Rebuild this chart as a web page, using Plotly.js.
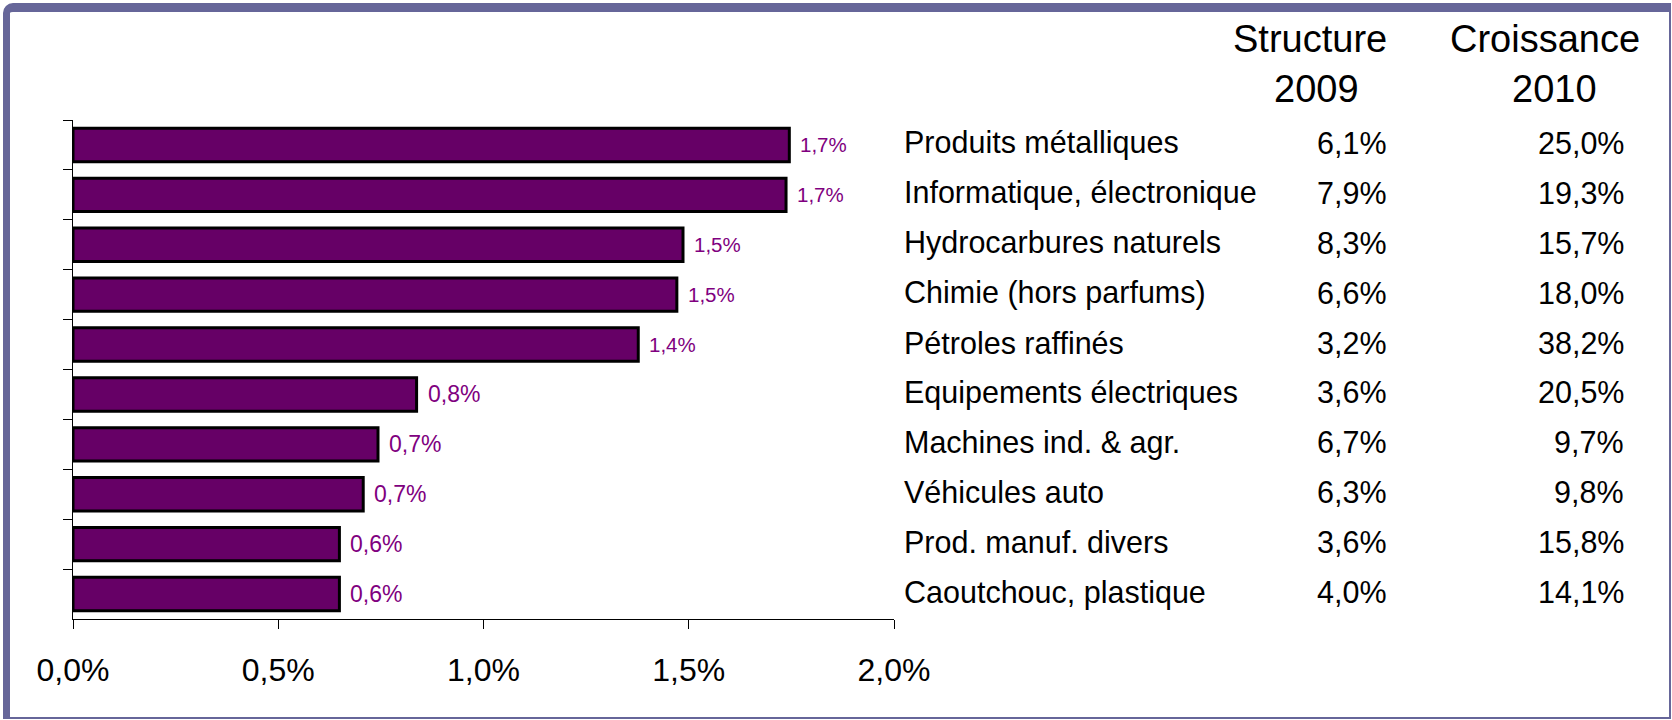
<!DOCTYPE html>
<html>
<head>
<meta charset="utf-8">
<script src="https://cdn.plot.ly/plotly-3.0.1.min.js"></script>
<style>
  html, body { margin: 0; padding: 0; background: #ffffff; }
  #chart { position: absolute; left: 0; top: 0; width: 1672px; height: 720px; }
  #frame {
    position: absolute; left: 3px; top: 3px; width: 1668px; height: 716px;
    box-sizing: border-box; border-style: solid; border-color: #666699;
    border-width: 9px 2px 2px 7px; border-top-left-radius: 10px;
    pointer-events: none;
  }
</style>
</head>
<body>
<div id="chart"></div>
<div id="frame"></div>
<script>
// ---- Data ----
const categories = [
  "Produits métalliques",
  "Informatique, électronique",
  "Hydrocarbures naturels",
  "Chimie (hors parfums)",
  "Pétroles raffinés",
  "Equipements électriques",
  "Machines ind. & agr.",
  "Véhicules auto",
  "Prod. manuf. divers",
  "Caoutchouc, plastique"
];
// contribution (in %), bar lengths
const contribution = [1.745, 1.737, 1.486, 1.471, 1.377, 0.837, 0.743, 0.707, 0.649, 0.649];
// table columns (in %)
const structure2009 = [6.1, 7.9, 8.3, 6.6, 3.2, 3.6, 6.7, 6.3, 3.6, 4.0];
const croissance2010 = [25.0, 19.3, 15.7, 18.0, 38.2, 20.5, 9.7, 9.8, 15.8, 14.1];
const xTicks = [0, 0.5, 1.0, 1.5, 2.0];
const headerStructure = ["Structure", "2009"];
const headerCroissance = ["Croissance", "2010"];

// ---- Helpers ----
const fmt = v => v.toFixed(1).replace('.', ',') + '%';

const FONT = '"Liberation Sans", Arial, sans-serif';
const LABEL_COLOR = '#800080';

const trace = {
  type: 'bar',
  orientation: 'h',
  x: contribution,
  y: categories,
  marker: { color: '#660066', line: { color: '#000000', width: 3 } },
  hoverinfo: 'none'
};

const annotations = [];
// bar value labels
contribution.forEach((v, i) => {
  annotations.push({
    x: v, y: categories[i], xref: 'x', yref: 'y',
    text: fmt(v), showarrow: false,
    xanchor: 'left', yanchor: 'middle', xshift: 11,
    borderpad: 0, borderwidth: 0,
    font: { family: FONT, size: i < 5 ? 20.5 : 23, color: LABEL_COLOR }
  });
});
// table rows
categories.forEach((c, i) => {
  annotations.push({
    x: 1.0122, y: c, xref: 'paper', yref: 'y', yshift: 2,
    text: c, showarrow: false, xanchor: 'left', yanchor: 'middle',
    borderpad: 0, borderwidth: 0,
    font: { family: FONT, size: 30.5, color: '#000000' }
  });
  annotations.push({
    x: 1.6004, y: c, xref: 'paper', yref: 'y', yshift: 2,
    text: fmt(structure2009[i]), showarrow: false, xanchor: 'right', yanchor: 'middle',
    borderpad: 0, borderwidth: 0,
    font: { family: FONT, size: 30.5, color: '#000000' }
  });
  annotations.push({
    x: 1.8892, y: c, xref: 'paper', yref: 'y', yshift: 2,
    text: fmt(croissance2010[i]), showarrow: false, xanchor: 'right', yanchor: 'middle',
    borderpad: 0, borderwidth: 0,
    font: { family: FONT, size: 30.5, color: '#000000' }
  });
});
// headers
const headerDefs = [
  [headerStructure[0], 1.5069, 1.1625],
  [headerStructure[1], 1.5143, 1.0622],
  [headerCroissance[0], 1.7929, 1.1625],
  [headerCroissance[1], 1.8039, 1.0622]
];
headerDefs.forEach(h => {
  annotations.push({
    x: h[1], y: h[2], xref: 'paper', yref: 'paper',
    text: h[0], showarrow: false, xanchor: 'center', yanchor: 'middle',
    borderpad: 0, borderwidth: 0,
    font: { family: FONT, size: 38, color: '#000000' }
  });
});

const layout = {
  width: 1672, height: 720,
  margin: { l: 73, r: 778, t: 120, b: 101, pad: 0 },
  paper_bgcolor: '#ffffff', plot_bgcolor: '#ffffff',
  separators: ',.',
  showlegend: false,
  bargap: 0.33,
  font: { family: FONT, color: '#000000' },
  xaxis: {
    range: [0, 2], tickmode: 'array', tickvals: xTicks, ticktext: xTicks.map(fmt),
    ticks: 'outside', ticklen: 9, tickwidth: 1, tickcolor: '#000000',
    ticklabelstandoff: 14,
    showline: true, linecolor: '#000000', linewidth: 1,
    showgrid: false, zeroline: false, fixedrange: true,
    tickfont: { family: FONT, size: 32, color: '#000000' }
  },
  yaxis: {
    type: 'category', categoryorder: 'array', categoryarray: categories,
    autorange: 'reversed',
    showticklabels: false, ticks: 'outside', tickson: 'boundaries',
    ticklen: 9, tickwidth: 1, tickcolor: '#000000',
    showline: true, linecolor: '#000000', linewidth: 1,
    showgrid: false, zeroline: false, fixedrange: true
  },
  annotations: annotations
};

Plotly.newPlot('chart', [trace], layout, { displayModeBar: false, staticPlot: true });
</script>
</body>
</html>
